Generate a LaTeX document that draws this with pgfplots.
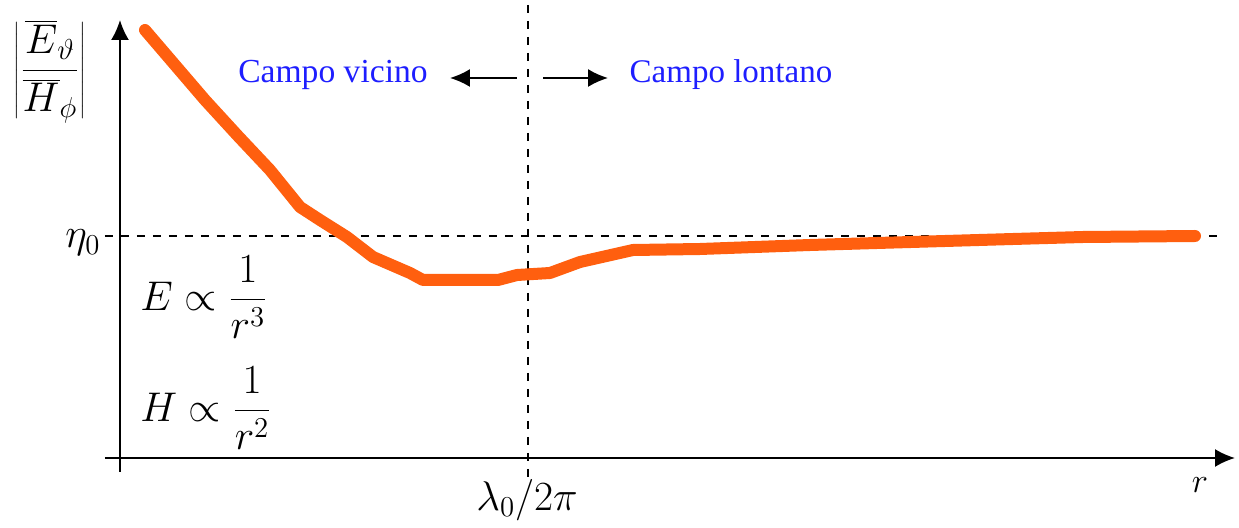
\documentclass[border=0pt]{standalone}
\usepackage{fontspec}
\setmainfont{Liberation Serif}
\usepackage{pgfplots}
\pgfplotsset{compat=1.18}
\usetikzlibrary{arrows.meta}
\definecolor{curve}{RGB}{255,95,15}
\definecolor{lbl}{RGB}{30,30,255}
\begin{document}
\begin{tikzpicture}
\begin{axis}[
  x=0.5pt, y=0.5pt,
  xmin=-15, xmax=1115, ymin=-14, ymax=438,
  axis lines=middle,
  axis line style={line width=1pt, -{Latex[length=10pt,width=9pt]}},
  xtick=\empty, ytick=\empty,
  clip=false,
]
\path (axis cs:-120,-64) (axis cs:1119,458);
% horizontal eta0 line and vertical lambda/2pi line
\addplot[black, line width=0.8pt, dash pattern=on 4pt off 4pt] coordinates {(-15,222) (1102,222)};
\addplot[black, line width=0.8pt, dash pattern=on 4pt off 4pt] coordinates {(408,453) (408,-20)};
% curve
\addplot[curve, line width=6pt, line cap=round, line join=round] coordinates {
(25,428) (55,393) (85,358) (118,322) (150,288) (180,251) (200,238) (227,221) (253,201)
(290,185) (303,178) (378,178) (397,183) (430,185) (460,196) (513,208)
(580,209) (690,213) (757,215) (825,217) (893,219) (963,221) (1075,222)
};
% arrows
\draw[line width=0.9pt, -{Latex[length=10pt,width=9pt]}] (axis cs:397,380) -- (axis cs:330,380);
\draw[line width=0.9pt, -{Latex[length=10pt,width=9pt]}] (axis cs:423,380) -- (axis cs:488,380);
% labels
\node[lbl, font=\fontsize{16.8}{18}\selectfont] at (axis cs:213,383) {Campo vicino};
\node[lbl, font=\fontsize{16.5}{18}\selectfont] at (axis cs:611,383) {Campo lontano};
\node[font=\fontsize{20}{24}\selectfont] at (axis cs:-70,386) {$\displaystyle\left|\frac{\overline{E}_{\vartheta}\rule[-5pt]{0pt}{5pt}}{\rule{0pt}{19pt}\overline{H}_{\phi}}\right|$};
\node[font=\fontsize{20}{22}\selectfont] at (axis cs:-37,215) {$\eta_0$};
\node[font=\fontsize{20}{24}\selectfont] at (axis cs:84,161) {$\displaystyle E\propto\frac{1}{r^3}$};
\node[font=\fontsize{20}{24}\selectfont] at (axis cs:86,50) {$\displaystyle H\propto\frac{1}{r^2}$};
\node[font=\fontsize{20}{22}\selectfont] at (axis cs:407,-42) {$\lambda_0/2\pi$};
\node[font=\fontsize{17}{20}\selectfont] at (axis cs:1080,-27) {$r$};
\end{axis}
\end{tikzpicture}
\end{document}
